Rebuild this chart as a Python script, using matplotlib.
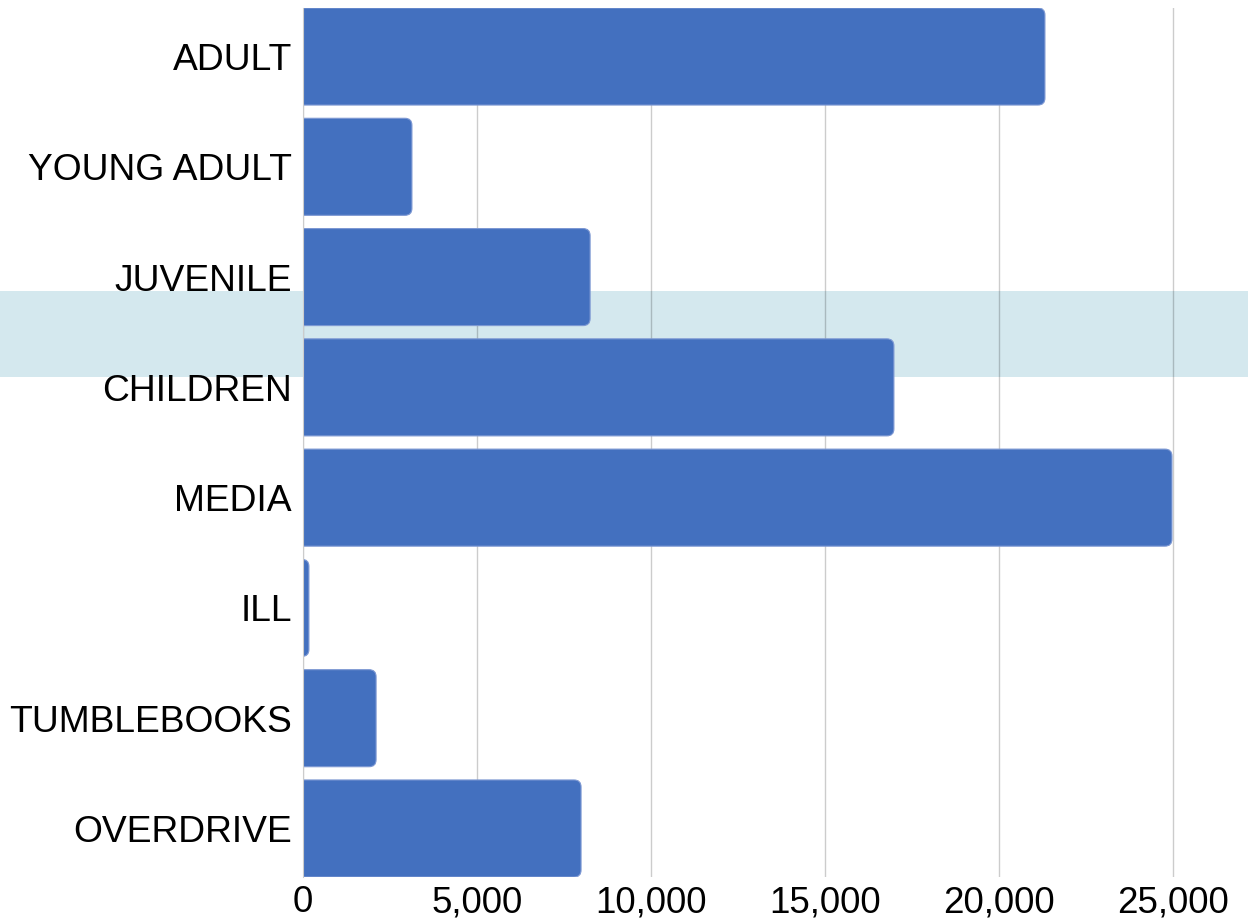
import matplotlib.pyplot as plt
from matplotlib.patches import FancyBboxPatch, Rectangle
from matplotlib.ticker import FuncFormatter
import matplotlib.transforms as mtransforms

# Circulation counts by collection
categories = ["ADULT", "YOUNG ADULT", "JUVENILE", "CHILDREN", "MEDIA", "ILL", "TUMBLEBOOKS", "OVERDRIVE"]
values = [21320, 3130, 8250, 16980, 24970, 170, 2100, 7990]
x_ticks = [0, 5000, 10000, 15000, 20000, 25000]

plt.rcParams['font.family'] = ['Liberation Sans', 'DejaVu Sans']

fig = plt.figure(figsize=(12.48, 9.22), dpi=100)
fig.patch.set_facecolor('white')
ax = fig.add_axes([303 / 1248, 1 - 877 / 922, 945 / 1248, 869 / 922])
ax.set_facecolor('none')

bar_h = 0.88
x_max = 945 / 174 * 5000
ax.set_xlim(0, x_max)
ax.set_ylim(len(categories) - 1 + bar_h / 2, -bar_h / 2)

# Pixel scales, used to keep the corner rounding circular
px_x = x_max / 945
px_y = (len(categories) - 1 + bar_h) / 869
radius = 7 * px_x
aspect = px_y / px_x

for i, v in enumerate(values):
    start = -3 * radius
    patch = FancyBboxPatch((start, i - bar_h / 2), v - start, bar_h,
                           boxstyle=f"round,pad=0,rounding_size={radius}",
                           mutation_aspect=aspect,
                           facecolor='#4370bf', edgecolor='#7d98d3', linewidth=0.8,
                           zorder=3)
    ax.add_patch(patch)

# Highlight band across the whole figure width, behind the axes
blend = mtransforms.blended_transform_factory(fig.transFigure, ax.transData)
band = Rectangle((0, 2.126), 1, 0.78, transform=blend, facecolor='#d4e8ee',
                 edgecolor='none', clip_on=False, zorder=-1)
band.set_figure(fig)
fig.patches.append(band)

ax.set_xticks(x_ticks)
ax.xaxis.set_major_formatter(FuncFormatter(lambda v, p: f"{int(v):,}"))
ax.set_yticks(range(len(categories)))
ax.set_yticklabels(categories)
ax.grid(axis='x', color='black', alpha=0.2, linewidth=1, zorder=1)
ax.set_axisbelow(True)
ax.tick_params(axis='both', length=0, colors='black')
ax.tick_params(axis='y', pad=8, labelsize=26.8)
ax.tick_params(axis='x', pad=6, labelsize=26.5)

for s in ['top', 'right', 'bottom']:
    ax.spines[s].set_visible(False)
ax.spines['left'].set_color('#cccccc')
ax.spines['left'].set_zorder(4)

fig.savefig('out.png', dpi=100)
